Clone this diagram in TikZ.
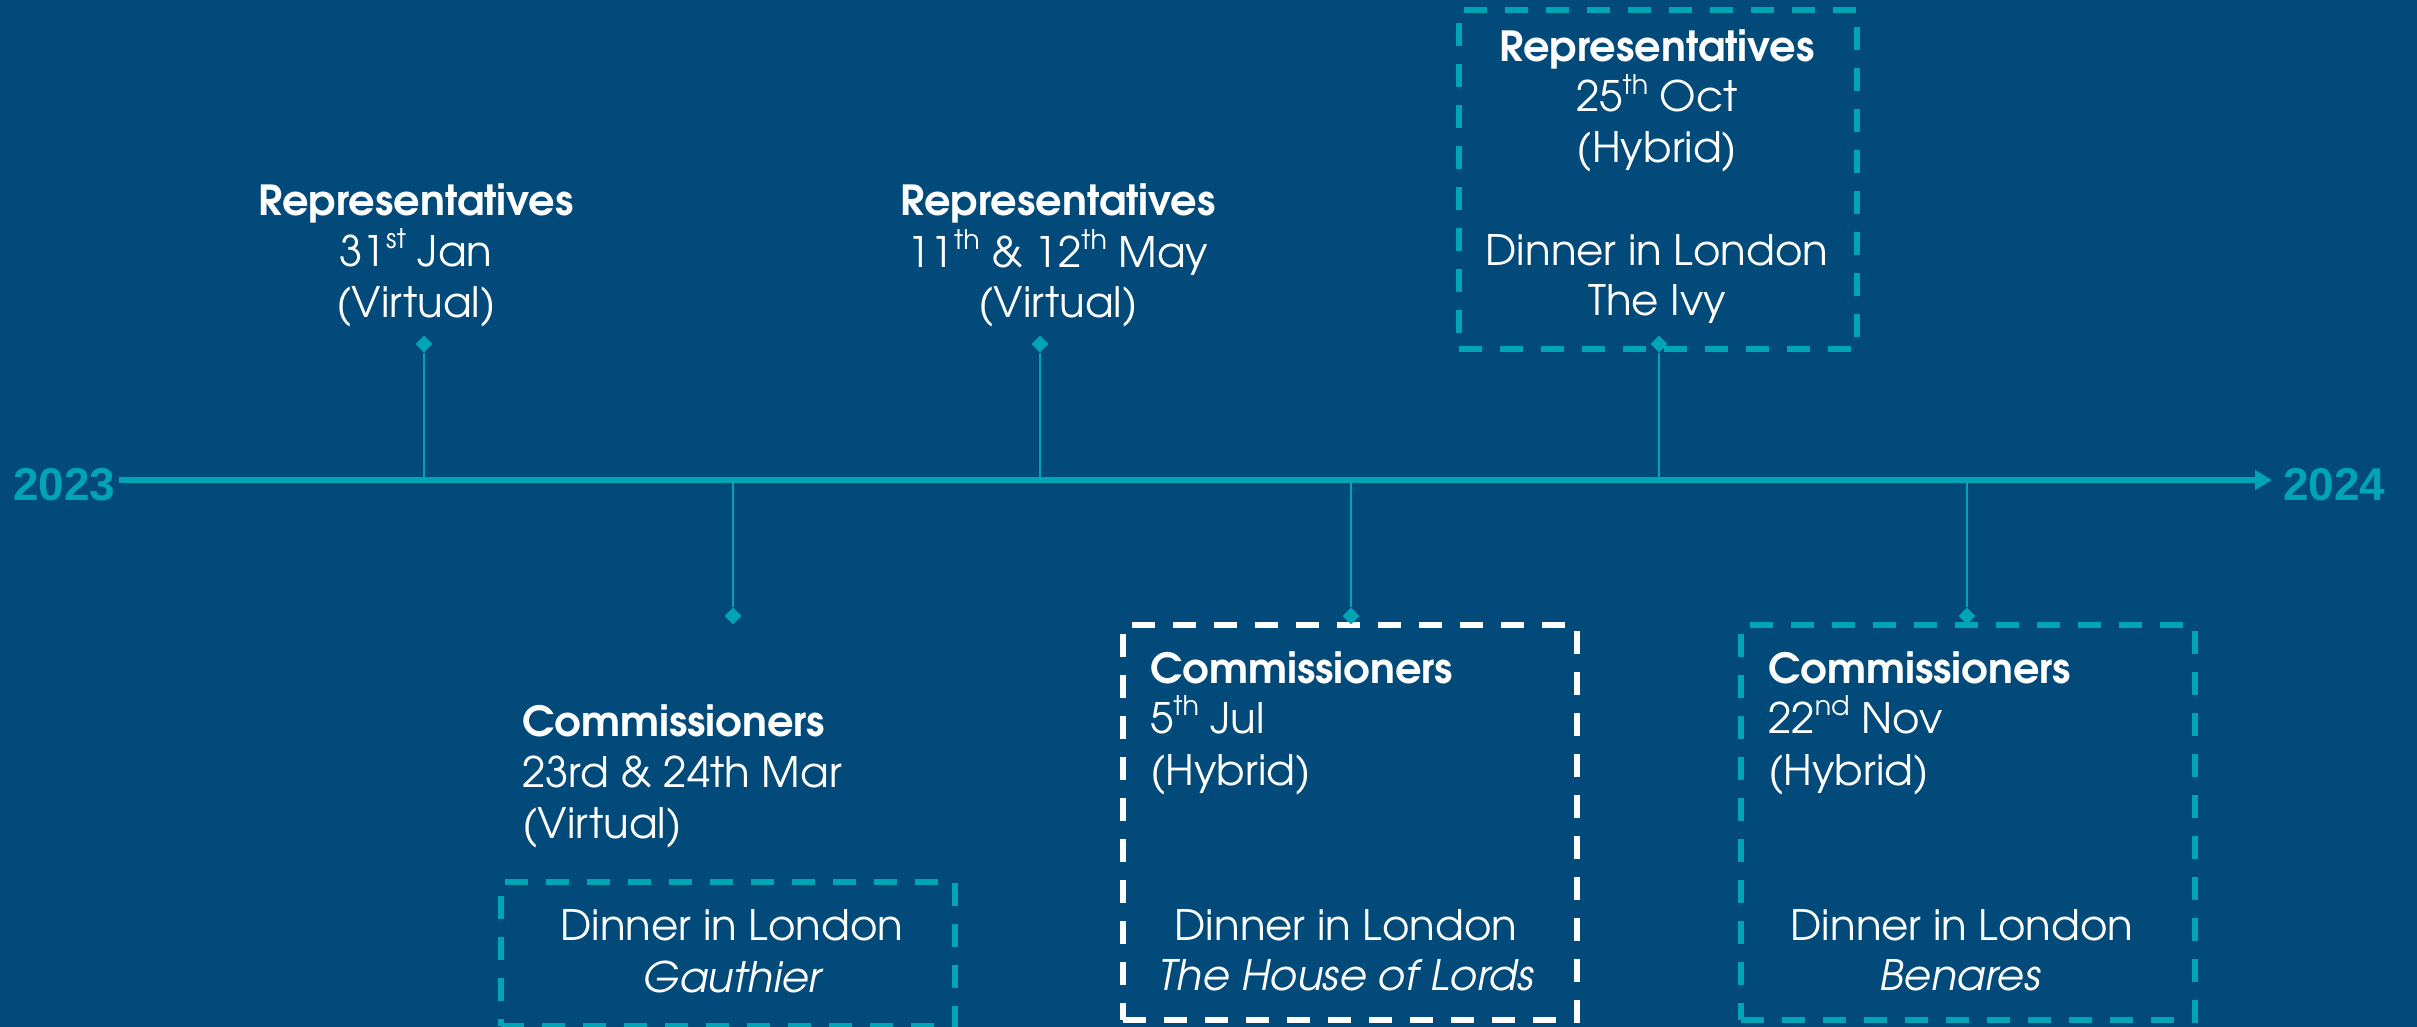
\documentclass[tikz,border=0pt]{standalone}
\usepackage{fontspec}
\setmainfont{texgyreadventor}[Extension=.otf, UprightFont=*-regular, BoldFont=*-bold, ItalicFont=*-italic, BoldItalicFont=*-bolditalic]
\newfontfamily\yearfont{Liberation Sans}
\usetikzlibrary{arrows.meta,shapes.geometric}
\definecolor{bgblue}{RGB}{2,74,121}
\definecolor{tlteal}{RGB}{0,165,181}
\newcommand{\ord}[1]{\raisebox{0.42em}{\fontsize{27}{27}\selectfont #1}}
\tikzset{
  txt/.style={text=white, inner sep=0pt, font=\fontsize{42}{50}\selectfont},
  hd/.style={text=white, inner sep=0pt, font=\fontsize{41.5}{50}\selectfont\bfseries},
  year/.style={text=tlteal, inner sep=0pt, font=\yearfont\bfseries\fontsize{46}{50}\selectfont},
  axisline/.style={draw=tlteal, line width=6pt, -{Triangle[length=17pt,width=19pt]}},
  tick/.style={draw=tlteal, line width=2pt},
  pin/.style={diamond, fill=tlteal, inner sep=0pt, minimum width=17pt, minimum height=17pt},
  tealbox/.style={draw=tlteal, line width=5.5pt, dash pattern=on 23pt off 18pt, inner sep=0pt},
  whitebox/.style={draw=white, line width=5.5pt, dash pattern=on 23pt off 18pt, inner sep=0pt},
}
\begin{document}
\begin{tikzpicture}[x=1pt, y=-1pt]
\useasboundingbox (0,0) rectangle (2417,1027);
\fill[bgblue] (0,0) rectangle (2417,1027);

% year labels and the axis
\node[year, anchor=base west] (y23) at (13,500) {2023};
\node[year, anchor=base west] (y24) at (2283,500) {2024};
\coordinate (axL) at (119,480);
\coordinate (axR) at (2272,480);
\draw[axisline] (axL) -- (axR);

% dashed boxes
\node[tealbox, minimum width=398pt, minimum height=339pt] (bOct) at (1658,179.5) {};
\node[tealbox, minimum width=454pt, minimum height=144pt] (bMar) at (728,954) {};
\node[whitebox, minimum width=454pt, minimum height=395pt] (bJul) at (1350,822.5) {};
\node[tealbox, minimum width=454pt, minimum height=395pt] (bNov) at (1968,822.5) {};

% ticks from the axis to the event markers
\coordinate (tJan) at (424,480);
\coordinate (tMar) at (733,480);
\coordinate (tMay) at (1040,480);
\coordinate (tJul) at (1351,480);
\coordinate (tOct) at (1659,480);
\coordinate (tNov) at (1967,480);
\node[pin] (pJan) at (424,344) {};
\node[pin] (pMar) at (733,616) {};
\node[pin] (pMay) at (1040,344) {};
\node[pin] (pJul) at (1351,616) {};
\node[pin] (pOct) at (1659,344) {};
\node[pin] (pNov) at (1967,616) {};
\draw[tick] (pJan.south) -- (tJan);
\draw[tick] (pMar.north) -- (tMar);
\draw[tick] (pMay.south) -- (tMay);
\draw[tick] (pJul.north) -- (tJul);
\draw[tick] (pOct.south) -- (tOct);
\draw[tick] (pNov.north) -- (tNov);

% January
\node[hd, anchor=base] (jan1) at (416,216) {Representatives};
\node[txt, anchor=base] (jan2) at (416,266) {31\ord{st} Jan};
\node[txt, anchor=base] (jan3) at (416,317) {(Virtual)};

% May
\node[hd, anchor=base] (may1) at (1058,215) {Representatives};
\node[txt, anchor=base] (may2) at (1058,267) {11\ord{th} \& 12\ord{th} May};
\node[txt, anchor=base] (may3) at (1058,317) {(Virtual)};

% October
\node[hd, anchor=base] (oct1) at (1657,62) {Representatives};
\node[txt, anchor=base] (oct2) at (1657,112) {25\ord{th} Oct};
\node[txt, anchor=base] (oct3) at (1657,163) {(Hybrid)};
\node[txt, anchor=base] (oct4) at (1657,265) {Dinner in London};
\node[txt, anchor=base] (oct5) at (1657,315) {The Ivy};

% March
\node[hd, anchor=base west] (mar1) at (522,736) {Commissioners};
\node[txt, anchor=base west] (mar2) at (522,787) {23rd \& 24th Mar};
\node[txt, anchor=base west] (mar3) at (522,838) {(Virtual)};
\node[txt, anchor=base] (mar4) at (732,940) {Dinner in London};
\node[txt, anchor=base] (mar5) at (732,992) {\itshape Gauthier};

% July
\node[hd, anchor=base west] (jul1) at (1150,683) {Commissioners};
\node[txt, anchor=base west] (jul2) at (1150,733) {5\ord{th} Jul};
\node[txt, anchor=base west] (jul3) at (1150,785) {(Hybrid)};
\node[txt, anchor=base] (jul4) at (1346,940) {Dinner in London};
\node[txt, anchor=base] (jul5) at (1346,990) {\itshape The House of Lords};

% November
\node[hd, anchor=base west] (nov1) at (1768,683) {Commissioners};
\node[txt, anchor=base west] (nov2) at (1768,733) {22\ord{nd} Nov};
\node[txt, anchor=base west] (nov3) at (1768,785) {(Hybrid)};
\node[txt, anchor=base] (nov4) at (1962,940) {Dinner in London};
\node[txt, anchor=base] (nov5) at (1960,990) {\itshape Benares};
\end{tikzpicture}
\end{document}
